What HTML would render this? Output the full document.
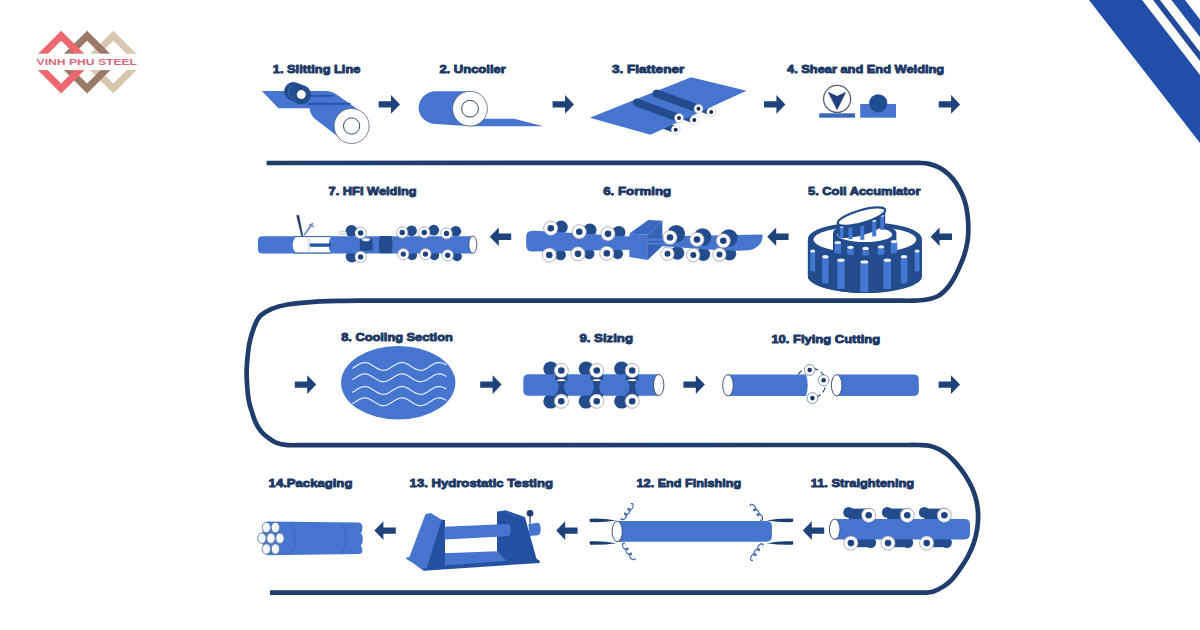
<!DOCTYPE html>
<html lang="en">
<head>
<meta charset="utf-8">
<title>ERW Steel Pipe Manufacturing Process</title>
<style>
  html, body { margin: 0; padding: 0; background: #ffffff; }
  body { width: 1200px; height: 630px; overflow: hidden; font-family: "Liberation Sans", sans-serif; }
  svg { display: block; }
  .lbl { font-family: "Liberation Sans", sans-serif; font-weight: bold; font-size: 11.4px; fill: #1c3966; stroke: #1c3966; stroke-width: 0.9px; stroke-linejoin: round; }
  .logo { font-family: "Liberation Sans", sans-serif; font-weight: bold; font-size: 8.6px; fill: #d4687b; }
</style>
</head>
<body>
<svg width="1200" height="630" viewBox="0 0 1200 630">
  <defs>
    <path id="ar" d="M0,-3.2 H12.4 V-9.3 L21.4,0 L12.4,9.3 V3.2 H0 Z" fill="#1e427a"/>
    <path id="al" d="M21.4,-3.2 H9 V-9.3 L0,0 L9,9.3 V3.2 H21.4 Z" fill="#1e427a"/>
    <!-- roller: white ring with dark hub -->
    <g id="rl">
      <circle r="7.1" fill="#ffffff" stroke="#8a94a8" stroke-width="0.7"/>
      <circle r="3.3" fill="#1f4380"/>
    </g>
    <g id="rm">
      <circle r="6.7" fill="#ffffff" stroke="#8a94a8" stroke-width="0.7"/>
      <circle r="3" fill="#1f4380"/>
    </g>
    <g id="rx">
      <circle r="7.6" fill="#ffffff" stroke="#8a94a8" stroke-width="0.7"/>
      <circle r="3.4" fill="#1f4380"/>
    </g>
    <g id="rh">
      <circle r="5.7" fill="#ffffff" stroke="#8a94a8" stroke-width="0.7"/>
      <circle r="2.7" fill="#1f4380"/>
    </g>
    <g id="rs">
      <circle r="6.4" fill="#ffffff" stroke="#8a94a8" stroke-width="0.7"/>
      <circle r="3" fill="#1f4380"/>
    </g>
  </defs>
  <rect x="0" y="0" width="1200" height="630" fill="#ffffff"/>

  <!-- ===== top-right corner stripes ===== -->
  <g id="corner">
    <polygon points="1089,0 1142,0 1200,75 1200,143" fill="#214fa8"/>
    <polygon points="1153,0 1160,0 1200,52 1200,61" fill="#24499a"/>
    <polygon points="1171.4,0 1185,0 1200,19.5 1200,37" fill="#214fa8"/>
  </g>

  <!-- ===== logo ===== -->
  <g id="logo">
    <g fill="none" stroke-width="7" stroke-linejoin="miter">
      <polygon points="113.3,35.7 139.7,62.1 113.3,88.5 86.9,62.1" stroke="#d8c6af"/>
      <polygon points="87.1,35.7 113.5,62.1 87.1,88.5 60.7,62.1" stroke="#9a7968"/>
      <polygon points="61.2,35.7 87.6,62.1 61.2,88.5 34.8,62.1" stroke="#ee696f"/>
    </g>
    <rect x="28" y="53.7" width="120" height="16.4" fill="#ffffff"/>
    <text class="logo" x="36.6" y="64.9" textLength="100.4" lengthAdjust="spacingAndGlyphs">VINH PHU STEEL</text>
  </g>

  <!-- ===== serpentine track ===== -->
  <path id="track" fill="none" stroke="#1f3d6c" stroke-width="4.7" stroke-linecap="butt" stroke-linejoin="round"
    d="M266.6,163 L905.0,162.9 C907.3,162.9 915.0,162.7 919.0,162.9 C923.0,163.1 925.8,163.1 929.2,163.9 C932.6,164.7 936.2,166.0 939.4,167.7 C942.6,169.4 945.5,171.5 948.3,174.0 C951.0,176.5 953.6,179.5 955.9,182.9 C958.2,186.3 960.5,190.6 962.2,194.4 C963.9,198.2 965.0,201.8 966.0,205.8 C967.0,209.8 967.5,214.1 967.9,218.5 C968.3,222.9 968.4,228.0 968.3,232.0 C968.2,236.0 968.0,238.8 967.3,242.7 C966.6,246.6 965.5,251.2 964.1,255.4 C962.7,259.6 960.8,264.1 959.0,268.1 C957.2,272.1 955.3,276.1 953.3,279.5 C951.3,282.9 949.5,285.6 947.0,288.4 C944.5,291.1 941.7,294.1 938.1,296.0 C934.5,297.9 929.6,299.0 925.4,299.8 C921.2,300.6 917.3,300.6 912.7,300.7 C908.1,300.8 900.5,300.7 898.0,300.7 L360.0,300.7 C357.5,300.7 351.7,300.7 345.0,300.8 C338.3,300.9 329.6,300.7 320.0,301.3 C310.4,301.9 295.7,303.2 287.6,304.5 C279.6,305.8 276.3,306.9 271.7,308.9 C267.1,310.9 262.7,313.4 259.8,316.4 C256.9,319.4 256.0,322.3 254.3,326.7 C252.6,331.1 250.7,336.7 249.5,342.6 C248.3,348.5 247.6,356.1 247.1,362.0 C246.6,367.9 246.4,371.7 246.7,378.0 C247.0,384.3 247.8,394.4 248.7,400.0 C249.6,405.6 250.7,408.1 251.9,411.9 C253.1,415.7 254.3,419.7 255.9,423.0 C257.5,426.3 259.3,429.2 261.4,431.7 C263.5,434.2 266.1,436.2 268.6,438.1 C271.1,440.0 273.3,441.7 276.5,442.9 C279.7,444.1 283.4,444.7 287.6,445.1 C291.9,445.5 299.6,445.1 302.0,445.1 L905.0,445.0 C907.4,445.0 915.2,444.9 919.3,445.0 C923.3,445.1 926.0,445.0 929.3,445.7 C932.6,446.4 936.2,447.8 939.3,449.3 C942.4,450.9 945.0,452.6 947.9,455.0 C950.8,457.4 953.5,460.3 956.4,463.6 C959.2,466.9 962.4,470.9 965.0,475.0 C967.6,479.1 970.2,483.6 972.1,487.9 C974.0,492.2 975.4,496.2 976.4,500.7 C977.4,505.2 978.0,510.2 978.1,515.0 C978.2,519.8 977.9,524.5 977.1,529.3 C976.4,534.1 975.1,539.1 973.6,543.6 C972.1,548.1 970.0,552.4 967.9,556.4 C965.8,560.4 963.3,564.1 960.7,567.9 C958.1,571.7 955.0,576.2 952.1,579.3 C949.2,582.4 946.7,584.4 943.6,586.4 C940.5,588.4 936.7,590.4 933.6,591.4 C930.5,592.4 928.9,592.4 925.0,592.6 C921.1,592.8 912.5,592.6 910.0,592.6 L270,592.6"/>

  <!-- ===== arrows ===== -->
  <g id="arrows">
    <use href="#ar" x="378.6" y="104.4"/>
    <use href="#ar" x="552.6" y="104.4"/>
    <use href="#ar" x="764" y="104.4"/>
    <use href="#ar" x="938.7" y="104.4"/>

    <use href="#al" x="489.8" y="236.8"/>
    <use href="#al" x="767.2" y="236.8"/>
    <use href="#al" x="930.6" y="236.8"/>

    <use href="#ar" x="294.8" y="384.6"/>
    <use href="#ar" x="480.2" y="384.6"/>
    <use href="#ar" x="683.4" y="384.6"/>
    <use href="#ar" x="938.6" y="384.6"/>

    <use href="#al" x="374.4" y="530.6"/>
    <use href="#al" x="556.2" y="530.6"/>
    <use href="#al" x="802.8" y="530.6"/>
  </g>

  <!-- ===== labels ===== -->
  <g id="labels">
    <text class="lbl" x="272.8" y="72.7" textLength="87.6" lengthAdjust="spacingAndGlyphs">1. Slitting Line</text>
    <text class="lbl" x="439.4" y="72.7" textLength="66.4" lengthAdjust="spacingAndGlyphs">2. Uncoiler</text>
    <text class="lbl" x="612" y="72.7" textLength="72.2" lengthAdjust="spacingAndGlyphs">3. Flattener</text>
    <text class="lbl" x="787" y="72.7" textLength="157.2" lengthAdjust="spacingAndGlyphs">4. Shear and End Welding</text>

    <text class="lbl" x="328.6" y="194.7" textLength="88" lengthAdjust="spacingAndGlyphs">7. HFI Welding</text>
    <text class="lbl" x="603.2" y="195" textLength="68" lengthAdjust="spacingAndGlyphs">6. Forming</text>
    <text class="lbl" x="808" y="194.7" textLength="112.4" lengthAdjust="spacingAndGlyphs">5. Coil Accumlator</text>

    <text class="lbl" x="341.2" y="341.4" textLength="111.6" lengthAdjust="spacingAndGlyphs">8. Cooling Section</text>
    <text class="lbl" x="579.4" y="341.8" textLength="53.6" lengthAdjust="spacingAndGlyphs">9. Sizing</text>
    <text class="lbl" x="771.4" y="343.2" textLength="108.8" lengthAdjust="spacingAndGlyphs">10. Flying Cutting</text>

    <text class="lbl" x="268.6" y="486.7" textLength="83.8" lengthAdjust="spacingAndGlyphs">14.Packaging</text>
    <text class="lbl" x="409.6" y="487.2" textLength="143.4" lengthAdjust="spacingAndGlyphs">13. Hydrostatic Testing</text>
    <text class="lbl" x="636.6" y="487.2" textLength="104.6" lengthAdjust="spacingAndGlyphs">12. End Finishing</text>
    <text class="lbl" x="810.8" y="487.2" textLength="103.4" lengthAdjust="spacingAndGlyphs">11. Straightening</text>
  </g>

  <!-- ===== STEPS ===== -->
  <g id="steps">

  <!-- step 1 : slitting line -->
  <g id="s1">
    <path d="M261.9,91.1 H327 Q331.5,91.1 335.5,93.8 L358,109.5 L341,139 L314.6,118.4 Q310,114.5 309.6,108.3 H278.4 Z" fill="#4575ce"/>
    <path d="M310,95.9 H334" stroke="#2a55a8" stroke-width="1.8" fill="none"/>
    <path d="M308,103.8 H350.5" stroke="#2a55a8" stroke-width="2" fill="none"/>
    <circle cx="293.4" cy="91.2" r="9.2" fill="#224c8c"/>
    <circle cx="297.4" cy="92.8" r="9.4" fill="#224c8c"/>
    <path d="M291.5,85.5 A9,9 0 0 0 291.5,98.5" stroke="#4a78c4" stroke-width="0.9" fill="none"/>
    <circle cx="301.3" cy="94.6" r="9.7" fill="#224c8c"/>
    <path d="M295.5,88 A9,9 0 0 0 295.5,101" stroke="#35609f" stroke-width="0.8" fill="none"/>
    <circle cx="301.3" cy="94.6" r="4.5" fill="#ffffff"/>
    <circle cx="351.6" cy="126" r="17.5" fill="#ffffff" stroke="#56647f" stroke-width="0.8"/>
    <circle cx="351.6" cy="126" r="8.1" fill="#ffffff" stroke="#33496f" stroke-width="1"/>
  </g>

  <!-- step 2 : uncoiler -->
  <g id="s2">
    <path d="M470,91.3 H436 A17.4,16.4 0 0 0 436,124.1 L470,126.2 Z" fill="#4575ce"/>
    <path d="M470,126.2 L484,118.8 H514 L543.5,126.2 Z" fill="#4575ce"/>
    <circle cx="470" cy="108.7" r="17.4" fill="#ffffff" stroke="#56647f" stroke-width="0.8"/>
    <circle cx="470" cy="108.7" r="8.4" fill="#ffffff" stroke="#33496f" stroke-width="1"/>
  </g>

  <!-- step 3 : flattener -->
  <g id="s3">
    <g stroke="#224c8c" stroke-width="7" stroke-linecap="butt" fill="none">
      <path d="M690,104 L711.2,112"/>
      <path d="M672,112 L694.3,120"/>
      <path d="M655,122 L675.7,129.7"/>
    </g>
    <polygon points="589.8,117.7 691,77.2 746.5,90.7 650.5,134.8" fill="#4575ce"/>
    <g stroke="#224c8c" stroke-width="8" stroke-linecap="round" fill="none">
      <path d="M656.5,93.6 L698.5,108.7"/>
      <path d="M637,102.6 L679,118"/>
    </g>
    <g fill="#ffffff" stroke="#9aa4b5" stroke-width="0.4">
      <circle cx="698.5" cy="108.7" r="4.5"/><circle cx="711.2" cy="112" r="4.5"/>
      <circle cx="679" cy="118" r="4.5"/><circle cx="694.3" cy="120" r="4.5"/>
      <circle cx="675.7" cy="129.7" r="4.5"/>
    </g>
    <g fill="#1b2f52">
      <circle cx="698.5" cy="108.7" r="2"/><circle cx="711.2" cy="112" r="2"/>
      <circle cx="679" cy="118" r="2"/><circle cx="694.3" cy="120" r="2"/>
      <circle cx="675.7" cy="129.7" r="2"/>
    </g>
  </g>

  <!-- step 4 : shear and end welding -->
  <g id="s4">
    <rect x="819.2" y="113.3" width="35.8" height="4.4" fill="#3b68bd"/>
    <circle cx="837.1" cy="98.9" r="13.5" fill="#ffffff" stroke="#525c74" stroke-width="1.3"/>
    <polygon points="828.3,92.3 837.1,96.3 845.7,92.3 837.1,109.8" fill="#213f82" stroke="#1a2c55" stroke-width="0.5"/>
    <rect x="860.2" y="104" width="35.8" height="13.7" fill="#4575ce"/>
    <circle cx="878.2" cy="103.3" r="9.1" fill="#1f4d92"/>
  </g>

  <!-- step 5 : coil accumulator -->
  <g id="s5">
    <!-- outer drum back + body -->
    <path d="M807.9,238.9 A57,16.7 0 0 1 921.9,238.9 V276.2 A57,16.7 0 0 1 807.9,276.2 Z" fill="#224c8c"/>
    <ellipse cx="864.9" cy="239.6" rx="51.4" ry="13.2" fill="#ffffff"/>
    <!-- inner drum -->
    <path d="M833,233 A31.7,9.5 0 0 1 896.4,233 V256 A31.7,9.5 0 0 1 833,256 Z" fill="#224c8c"/>
    <ellipse cx="864.7" cy="234.6" rx="27.5" ry="7.4" fill="#ffffff"/>
    <g>
      <rect x="834.6" y="242.5" width="6.4" height="14.5" fill="#4278d2"/>
      <ellipse cx="837.8" cy="242.5" rx="3.2" ry="1.6" fill="#eef3fb"/>
      <rect x="847.3" y="247.3" width="6.4" height="9.7" fill="#4278d2"/>
      <ellipse cx="850.5" cy="247.3" rx="3.2" ry="1.6" fill="#eef3fb"/>
      <rect x="862.4" y="248.4" width="6.4" height="8.6" fill="#4278d2"/>
      <ellipse cx="865.6" cy="248.4" rx="3.2" ry="1.6" fill="#eef3fb"/>
      <rect x="877.8" y="246.8" width="6.4" height="10.2" fill="#4278d2"/>
      <ellipse cx="881.0" cy="246.8" rx="3.2" ry="1.6" fill="#eef3fb"/>
      <rect x="890.8" y="241.6" width="6.4" height="15.4" fill="#4278d2"/>
      <ellipse cx="894.0" cy="241.6" rx="3.2" ry="1.6" fill="#eef3fb"/>
    </g>
    <!-- front wall of outer drum -->
    <path d="M807.9,238.9 A57,16.7 0 0 0 921.9,238.9 V276.2 A57,16.7 0 0 1 807.9,276.2 Z" fill="#224c8c"/>
    <path d="M813.5,239.6 A51.4,13.2 0 0 0 916.3,239.6 A51.4,10 0 0 0 813.5,239.6 Z" fill="#224c8c" opacity="0"/>
    <g>
      <rect x="810.2" y="251.1" width="5" height="20.3" fill="#4278d2"/>
      <ellipse cx="812.7" cy="251.1" rx="2.5" ry="1.7" fill="#eef3fb"/>
      <rect x="822.1" y="256.8" width="6.5" height="26.5" fill="#4278d2"/>
      <ellipse cx="825.4" cy="256.8" rx="3.2" ry="1.7" fill="#eef3fb"/>
      <rect x="837.2" y="260.3" width="7.5" height="28.6" fill="#4278d2"/>
      <ellipse cx="841.0" cy="260.3" rx="3.8" ry="1.7" fill="#eef3fb"/>
      <rect x="860.3" y="261.9" width="8" height="30.1" fill="#4278d2"/>
      <ellipse cx="864.3" cy="261.9" rx="4.0" ry="1.7" fill="#eef3fb"/>
      <rect x="883.5" y="260.3" width="7.5" height="28.6" fill="#4278d2"/>
      <ellipse cx="887.3" cy="260.3" rx="3.8" ry="1.7" fill="#eef3fb"/>
      <rect x="900.8" y="256.8" width="6.5" height="26.5" fill="#4278d2"/>
      <ellipse cx="904.0" cy="256.8" rx="3.2" ry="1.7" fill="#eef3fb"/>
      <rect x="914.6" y="251.1" width="5" height="20.3" fill="#4278d2"/>
      <ellipse cx="917.1" cy="251.1" rx="2.5" ry="1.7" fill="#eef3fb"/>
    </g>
    <!-- tilted coil on top -->
    <g>
      <ellipse cx="861.5" cy="228.8" rx="24.6" ry="6.4" transform="rotate(-16 861.5 228.8)" fill="#224c8c"/>
      <polygon points="837.8,222.9 885.2,210.3 885.2,222.5 837.8,235.1" fill="#224c8c"/>
      <g fill="#4278d2">
        <rect x="839.8" y="226.6" width="3.8" height="10.6"/>
        <rect x="848.5" y="227.6" width="4" height="11.6"/>
        <rect x="860.3" y="226" width="4" height="13.8"/>
        <rect x="872.2" y="220.6" width="4" height="15.8"/>
        <rect x="880.4" y="215.4" width="3.6" height="14.4"/>
      </g>
      <g fill="#e9f0fb">
        <ellipse cx="841.7" cy="226.9" rx="1.9" ry="0.9"/>
        <ellipse cx="874.2" cy="220.9" rx="2" ry="0.9"/>
        <ellipse cx="882.2" cy="215.7" rx="1.8" ry="0.9"/>
      </g>
      <ellipse cx="861.5" cy="216.6" rx="24.6" ry="6.4" transform="rotate(-16 861.5 216.6)" fill="#ffffff" stroke="#224c8c" stroke-width="2.2"/>
    </g>
  </g>
  <!-- step 6 : forming -->
  <g id="s6">
    <circle cx="561.1" cy="227.2" r="6.6" fill="#224c8c"/>
    <circle cx="589.9" cy="230.2" r="6.6" fill="#224c8c"/>
    <circle cx="618.8" cy="232.5" r="6.6" fill="#224c8c"/>
    <circle cx="560.5" cy="254.9" r="5.4" fill="#224c8c"/>
    <circle cx="589.1" cy="253.8" r="5.4" fill="#224c8c"/>
    <circle cx="617.7" cy="253.8" r="5.4" fill="#224c8c"/>
    <circle cx="677.5" cy="253.0" r="6.8" fill="#224c8c"/>
    <circle cx="703.3" cy="254.2" r="6.8" fill="#224c8c"/>
    <circle cx="729.5" cy="253.7" r="6.8" fill="#224c8c"/>
    <path d="M630,236.6 L540,231 L532.4,230.8 Q526.2,230.8 526.2,237 V245.4 Q526.2,251.6 532.4,251.6 L630,249.8 Z" fill="#4575ce"/>
    <path d="M650,236.4 L762.6,234.4 C763.2,243 757,250.6 744,250.6 C715,251 680,246.8 650,245.4 Z" fill="#4575ce"/>
    <circle cx="676.3" cy="233.8" r="8.8" fill="#224c8c"/>
    <circle cx="702.5" cy="237" r="8.8" fill="#224c8c"/>
    <circle cx="728.8" cy="238" r="8.8" fill="#224c8c"/>
    <polygon points="629.4,233.6 648.3,220 662.4,220.7 647.7,234.8" fill="#3a69c0"/>
    <polygon points="647.7,234.8 662.4,220.7 662.4,246 647.7,260" fill="#3463b9"/>
    <rect x="648" y="238.6" width="18" height="2.2" fill="#4c7dd4"/>
    <rect x="648" y="242.6" width="18" height="2" fill="#4c7dd4"/>
    <polygon points="629.4,233.6 647.7,234.8 647.7,260 629.4,257" fill="#4575ce"/>
    <path d="M647.7,234.8 V260" stroke="#355fb0" stroke-width="0.5" fill="none"/>
    <use href="#rl" x="550.8" y="228.3"/>
    <use href="#rl" x="579.3" y="231.8"/>
    <use href="#rl" x="608" y="233.8"/>
    <use href="#rl" x="549.3" y="255"/>
    <use href="#rl" x="578" y="253.8"/>
    <use href="#rl" x="606.8" y="253.3"/>
    <use href="#rl" x="670" y="237.5"/>
    <use href="#rl" x="697" y="239.5"/>
    <use href="#rl" x="723.3" y="240.8"/>
    <use href="#rm" x="667.5" y="253.8"/>
    <use href="#rm" x="693.3" y="255"/>
    <use href="#rm" x="719.5" y="254.5"/>
  </g>
  <!-- step 7 : HFI welding -->
  <g id="s7">
    <circle cx="411.5" cy="230.8" r="5.4" fill="#224c8c"/>
    <circle cx="433.7" cy="230.2" r="5.4" fill="#224c8c"/>
    <circle cx="455.8" cy="231.3" r="5.4" fill="#224c8c"/>
    <circle cx="412.1" cy="255.3" r="4.9" fill="#224c8c"/>
    <circle cx="434.3" cy="255.3" r="4.9" fill="#224c8c"/>
    <circle cx="457" cy="256.4" r="4.9" fill="#224c8c"/>
    <circle cx="351.5" cy="231" r="6" fill="#224c8c"/>
    <circle cx="351.8" cy="256.4" r="6" fill="#224c8c"/>
    <path d="M472.8,236.2 H262.4 Q257.9,236.2 257.9,240.7 V248.9 Q257.9,253.4 262.4,253.4 H472.8 Z" fill="#4575ce"/>
    <path d="M295.4,236.9 H330.8 Q326.4,244.8 330.8,252.7 H295.4 Q289.8,244.8 295.4,236.9 Z" fill="#ffffff"/>
    <path d="M294,236.6 H331 M294,253 H331" stroke="#2f5cae" stroke-width="0.9" fill="none"/>
    <rect x="307.4" y="238" width="3" height="13.4" fill="#e4e4ee"/>
    <rect x="309.8" y="243.4" width="21.4" height="3.4" fill="#2b58ad"/>
    <rect x="359.8" y="238.8" width="12.8" height="12" fill="#224c8c"/>
    <path d="M380,236 H391.4 Q393.6,244.6 391.4,253.3 H380 Q377.8,244.6 380,236 Z" fill="#224c8c"/>
    <ellipse cx="472.8" cy="244.65" rx="4" ry="8.65" fill="#ffffff" stroke="#3a4c72" stroke-width="0.9"/>
    <path d="M296.6,215.6 L298.8,215.2 L302.9,236 L301.6,236 Z" fill="#1c3766" stroke="#1c3766" stroke-width="0.5" stroke-linejoin="round"/>
    <path d="M312.2,223.8 L304.6,234.4" stroke="#6a8cc6" stroke-width="1.7" stroke-linecap="round" fill="none"/>
    <path d="M309.6,224.6 L313.4,226.6" stroke="#5f84c2" stroke-width="1.2" stroke-linecap="round" fill="none"/>
    <ellipse cx="342.6" cy="233" rx="4" ry="1.7" fill="#eef2f8" stroke="#93a6c8" stroke-width="0.5"/>
    <ellipse cx="366" cy="239.6" rx="4" ry="1.7" fill="#eef2f8" stroke="#93a6c8" stroke-width="0.5"/>
    <use href="#rh" x="360.6" y="233"/>
    <use href="#rh" x="360.6" y="256.9"/>
    <use href="#rh" x="402.2" y="232.5"/>
    <use href="#rh" x="424.3" y="232.5"/>
    <use href="#rh" x="446.5" y="233.4"/>
    <use href="#rh" x="403.3" y="254.1"/>
    <use href="#rh" x="425.5" y="254.1"/>
    <use href="#rh" x="447.7" y="255.3"/>
  </g>
  <!-- step 8 : cooling section -->
  <g id="s8">
    <ellipse cx="398.2" cy="382.8" rx="57.2" ry="36.8" fill="#4575ce"/>
    <polyline points="352.8,368.12 354.4,367.15 355.9,366.13 357.5,365.13 359.0,364.22 360.6,363.46 362.1,362.89 363.7,362.57 365.2,362.51 366.8,362.72 368.3,363.17 369.9,363.85 371.4,364.71 373.0,365.68 374.5,366.69 376.1,367.69 377.7,368.60 379.2,369.36 380.8,369.92 382.3,370.23 383.9,370.29 385.4,370.08 387.0,369.61 388.5,368.93 390.1,368.07 391.6,367.10 393.2,366.08 394.7,365.08 396.3,364.18 397.8,363.42 399.4,362.87 401.0,362.56 402.5,362.51 404.1,362.73 405.6,363.20 407.2,363.89 408.7,364.75 410.3,365.73 411.8,366.75 413.4,367.74 414.9,368.65 416.5,369.40 418.0,369.94 419.6,370.24 421.1,370.28 422.7,370.06 424.3,369.58 425.8,368.89 427.4,368.02 428.9,367.05 430.5,366.03 432.0,365.03 433.6,364.13 435.1,363.39 436.7,362.85 438.2,362.55 439.8,362.52 441.3,362.75 442.9,363.23 444.4,363.93 446.0,364.80" fill="none" stroke="#e3edfb" stroke-width="1.2" stroke-linecap="round"/>
    <polyline points="352.8,379.52 354.4,378.55 355.9,377.53 357.5,376.53 359.0,375.62 360.6,374.86 362.1,374.29 363.7,373.97 365.2,373.91 366.8,374.12 368.3,374.57 369.9,375.25 371.4,376.11 373.0,377.08 374.5,378.09 376.1,379.09 377.7,380.00 379.2,380.76 380.8,381.32 382.3,381.63 383.9,381.69 385.4,381.48 387.0,381.01 388.5,380.33 390.1,379.47 391.6,378.50 393.2,377.48 394.7,376.48 396.3,375.58 397.8,374.82 399.4,374.27 401.0,373.96 402.5,373.91 404.1,374.13 405.6,374.60 407.2,375.29 408.7,376.15 410.3,377.13 411.8,378.15 413.4,379.14 414.9,380.05 416.5,380.80 418.0,381.34 419.6,381.64 421.1,381.68 422.7,381.46 424.3,380.98 425.8,380.29 427.4,379.42 428.9,378.45 430.5,377.43 432.0,376.43 433.6,375.53 435.1,374.79 436.7,374.25 438.2,373.95 439.8,373.92 441.3,374.15 442.9,374.63 444.4,375.33 446.0,376.20" fill="none" stroke="#e3edfb" stroke-width="1.2" stroke-linecap="round"/>
    <polyline points="352.8,392.12 354.4,391.15 355.9,390.13 357.5,389.13 359.0,388.22 360.6,387.46 362.1,386.89 363.7,386.57 365.2,386.51 366.8,386.72 368.3,387.17 369.9,387.85 371.4,388.71 373.0,389.68 374.5,390.69 376.1,391.69 377.7,392.60 379.2,393.36 380.8,393.92 382.3,394.23 383.9,394.29 385.4,394.08 387.0,393.61 388.5,392.93 390.1,392.07 391.6,391.10 393.2,390.08 394.7,389.08 396.3,388.18 397.8,387.42 399.4,386.87 401.0,386.56 402.5,386.51 404.1,386.73 405.6,387.20 407.2,387.89 408.7,388.75 410.3,389.73 411.8,390.75 413.4,391.74 414.9,392.65 416.5,393.40 418.0,393.94 419.6,394.24 421.1,394.28 422.7,394.06 424.3,393.58 425.8,392.89 427.4,392.02 428.9,391.05 430.5,390.03 432.0,389.03 433.6,388.13 435.1,387.39 436.7,386.85 438.2,386.55 439.8,386.52 441.3,386.75 442.9,387.23 444.4,387.93 446.0,388.80" fill="none" stroke="#e3edfb" stroke-width="1.2" stroke-linecap="round"/>
    <polyline points="352.8,403.52 354.4,402.55 355.9,401.53 357.5,400.53 359.0,399.62 360.6,398.86 362.1,398.29 363.7,397.97 365.2,397.91 366.8,398.12 368.3,398.57 369.9,399.25 371.4,400.11 373.0,401.08 374.5,402.09 376.1,403.09 377.7,404.00 379.2,404.76 380.8,405.32 382.3,405.63 383.9,405.69 385.4,405.48 387.0,405.01 388.5,404.33 390.1,403.47 391.6,402.50 393.2,401.48 394.7,400.48 396.3,399.58 397.8,398.82 399.4,398.27 401.0,397.96 402.5,397.91 404.1,398.13 405.6,398.60 407.2,399.29 408.7,400.15 410.3,401.13 411.8,402.15 413.4,403.14 414.9,404.05 416.5,404.80 418.0,405.34 419.6,405.64 421.1,405.68 422.7,405.46 424.3,404.98 425.8,404.29 427.4,403.42 428.9,402.45 430.5,401.43 432.0,400.43 433.6,399.53 435.1,398.79 436.7,398.25 438.2,397.95 439.8,397.92 441.3,398.15 442.9,398.63 444.4,399.33 446.0,400.20" fill="none" stroke="#e3edfb" stroke-width="1.2" stroke-linecap="round"/>
  </g>
  <!-- step 9 : sizing -->
  <g id="s9">
    <circle cx="550.6999999999999" cy="368.8" r="7.4" fill="#224c8c"/>
    <circle cx="550.6999999999999" cy="401.2" r="7.4" fill="#224c8c"/>
    <circle cx="586.1" cy="368.8" r="7.4" fill="#224c8c"/>
    <circle cx="586.1" cy="401.2" r="7.4" fill="#224c8c"/>
    <circle cx="621.6" cy="368.8" r="7.4" fill="#224c8c"/>
    <circle cx="621.6" cy="401.2" r="7.4" fill="#224c8c"/>
    <path d="M658.7,374.2 H528.8 Q523.3,374.2 523.3,379.7 V390.3 Q523.3,395.8 528.8,395.8 H658.7 Z" fill="#4575ce"/>
    <path d="M555.3,378.5 Q558.7,384 558.7,387.6 Q558.3,392 554.7,396.4 H567.9 Q564.3,392 563.9,387.6 Q563.9,384 567.3,378.5 Z" fill="#224c8c"/>
    <rect x="555.0999999999999" y="372" width="12.4" height="8" fill="#224c8c"/>
    <rect x="555.0999999999999" y="394" width="12.4" height="4" fill="#224c8c"/>
    <path d="M590.7,378.5 Q594.1,384 594.1,387.6 Q593.7,392 590.1,396.4 H603.3 Q599.7,392 599.3,387.6 Q599.3,384 602.7,378.5 Z" fill="#224c8c"/>
    <rect x="590.5" y="372" width="12.4" height="8" fill="#224c8c"/>
    <rect x="590.5" y="394" width="12.4" height="4" fill="#224c8c"/>
    <path d="M626.2,378.5 Q629.6,384 629.6,387.6 Q629.2,392 625.6,396.4 H638.8 Q635.2,392 634.8,387.6 Q634.8,384 638.2,378.5 Z" fill="#224c8c"/>
    <rect x="626.0" y="372" width="12.4" height="8" fill="#224c8c"/>
    <rect x="626.0" y="394" width="12.4" height="4" fill="#224c8c"/>
    <ellipse cx="658.7" cy="385" rx="5.2" ry="10.6" fill="#ffffff" stroke="#3a4c72" stroke-width="0.95"/>
    <use href="#rl" x="561.3" y="370.5"/>
    <use href="#rl" x="561.3" y="401.2"/>
    <ellipse cx="561.3" cy="380.2" rx="4.7" ry="1.5" fill="#ffffff" stroke="#1c3766" stroke-width="0.9"/>
    <use href="#rl" x="596.7" y="370.5"/>
    <use href="#rl" x="596.7" y="401.2"/>
    <ellipse cx="596.7" cy="380.2" rx="4.7" ry="1.5" fill="#ffffff" stroke="#1c3766" stroke-width="0.9"/>
    <use href="#rl" x="632.2" y="370.5"/>
    <use href="#rl" x="632.2" y="401.2"/>
    <ellipse cx="632.2" cy="380.2" rx="4.7" ry="1.5" fill="#ffffff" stroke="#1c3766" stroke-width="0.9"/>
  </g>
  <!-- step 10 : flying cutting -->
  <g id="s10">
    <path d="M728,374.6 H806 Q809.4,385.3 806,396 H728 Z" fill="#4575ce"/>
    <ellipse cx="728" cy="385.3" rx="5.3" ry="10.7" fill="#ffffff" stroke="#3a4c72" stroke-width="0.95"/>
    <path d="M836.7,374.6 H913.5 Q918.8,374.6 918.8,379.9 V390.7 Q918.8,396 913.5,396 H836.7 Z" fill="#4575ce"/>
    <ellipse cx="836.7" cy="385.3" rx="5.3" ry="10.7" fill="#ffffff" stroke="#3a4c72" stroke-width="0.95"/>
    <path d="M798,374.4 A15.3,15.3 0 1 1 812.6,398.4" fill="none" stroke="#1f3d6c" stroke-width="1.1" stroke-dasharray="5.5 3"/>
    <circle cx="809.7" cy="370" r="5.4" fill="#ffffff" stroke="#33558f" stroke-width="0.6"/><circle cx="809.7" cy="370" r="2.3" fill="#1c3766"/>
    <circle cx="823.6" cy="380.3" r="5.4" fill="#ffffff" stroke="#33558f" stroke-width="0.6"/><circle cx="823.6" cy="380.3" r="2.3" fill="#1c3766"/>
    <circle cx="812.4" cy="398.1" r="5.4" fill="#ffffff" stroke="#33558f" stroke-width="0.6"/><circle cx="812.4" cy="398.1" r="2.3" fill="#1c3766"/>
  </g>
  <!-- step 11 : straightening -->
  <g id="s11">
    <circle cx="848.7" cy="512.4" r="5.4" fill="#224c8c"/><rect x="848.7" y="508.6" width="20" height="11.2" fill="#224c8c"/><circle cx="868.7" cy="514.6" r="6.6" fill="#224c8c"/>
    <circle cx="887.3" cy="512.4" r="5.4" fill="#224c8c"/><rect x="887.3" y="508.6" width="20" height="11.2" fill="#224c8c"/><circle cx="907.3" cy="514.6" r="6.6" fill="#224c8c"/>
    <circle cx="924.3" cy="512.4" r="5.4" fill="#224c8c"/><rect x="924.3" y="508.6" width="20" height="11.2" fill="#224c8c"/><circle cx="944.3" cy="514.6" r="6.6" fill="#224c8c"/>
    <circle cx="870.7" cy="542.6" r="5.4" fill="#224c8c"/><rect x="850.9" y="538" width="19.8" height="9.2" fill="#224c8c"/><circle cx="850.9" cy="543" r="6.6" fill="#224c8c"/>
    <circle cx="907.8" cy="542.6" r="5.4" fill="#224c8c"/><rect x="888" y="538" width="19.8" height="9.2" fill="#224c8c"/><circle cx="888" cy="543" r="6.6" fill="#224c8c"/>
    <circle cx="946.5" cy="542.6" r="5.4" fill="#224c8c"/><rect x="926.7" y="538" width="19.8" height="9.2" fill="#224c8c"/><circle cx="926.7" cy="543" r="6.6" fill="#224c8c"/>
    <path d="M834.7,519 H964.6 Q970,519 970,524.4 V534 Q970,539.4 964.6,539.4 H834.7 Z" fill="#4575ce"/>
    <ellipse cx="834.7" cy="529.2" rx="5.3" ry="10.1" fill="#ffffff" stroke="#3a4c72" stroke-width="0.95"/>
    <use href="#rl" x="868.7" y="515.3"/>
    <use href="#rl" x="907.3" y="515.3"/>
    <use href="#rl" x="944.3" y="515.3"/>
    <use href="#rl" x="850.9" y="543.1"/>
    <use href="#rl" x="888" y="543.1"/>
    <use href="#rl" x="926.7" y="543.1"/>
  </g>
  <!-- step 12 : end finishing -->
  <g id="s12">
    <path d="M617.2,521.1 H766.5 Q771.9,521.1 771.9,526.5 V536.3 Q771.9,541.7 766.5,541.7 H617.2 Z" fill="#4575ce"/>
    <ellipse cx="617.2" cy="531.4" rx="5.1" ry="10.3" fill="#ffffff" stroke="#3a4c72" stroke-width="0.95"/>
    <path d="M589.8,518.7 Q603,518.0 616.2,520.6 Q603,522.6 590.2,522.1 Q589,520.4 589.8,518.7 Z" fill="#1c3d72"/>
    <path d="M793,518.7 Q779.8,518.0 766.6,520.6 Q779.8,522.6 792.6,522.1 Q793.8,520.4 793,518.7 Z" fill="#1c3d72"/>
    <path d="M589.8,541.3 Q603,540.6 616.2,543.2 Q603,545.2 590.2,544.7 Q589,543.0 589.8,541.3 Z" fill="#1c3d72"/>
    <path d="M793,541.3 Q779.8,540.6 766.6,543.2 Q779.8,545.2 792.6,544.7 Q793.8,543.0 793,541.3 Z" fill="#1c3d72"/>



    <polyline points="621.2,518.1 621.1,518.5 621.1,518.9 621.3,519.2 621.7,519.5 622.2,519.6 622.9,519.6 623.6,519.4 624.3,519.0 625.0,518.4 625.6,517.7 626.1,516.9 626.4,516.0 626.5,515.2 626.5,514.4 626.3,513.8 626.0,513.4 625.6,513.1 625.2,513.0 624.8,513.1 624.6,513.4 624.4,513.7 624.4,514.1 624.7,514.4 625.0,514.7 625.6,514.9 626.2,514.8 626.9,514.6 627.7,514.2 628.4,513.6 629.0,512.9 629.4,512.1 629.8,511.2 629.9,510.4 629.8,509.7 629.6,509.0 629.3,508.6 628.9,508.3 628.5,508.3 628.2,508.4 627.9,508.6 627.8,508.9 627.8,509.3 628.0,509.7 628.4,510.0 628.9,510.1 629.5,510.1 630.3,509.9 631.0,509.5 631.7,508.9 632.3,508.1 632.8,507.3 633.1,506.5 633.2,505.6 633.2,504.9 633.0,504.3 632.7,503.8 632.3,503.6 631.9,503.5 631.5,503.6 631.2,503.8" fill="none" stroke="#355fa8" stroke-width="1.1" stroke-linecap="round" stroke-linejoin="round"/>
    <polyline points="624.5,543.3 624.2,543.1 623.9,543.0 623.5,543.1 623.1,543.4 622.8,543.8 622.6,544.5 622.5,545.2 622.7,546.1 623.0,546.9 623.5,547.8 624.1,548.5 624.8,549.1 625.5,549.5 626.2,549.7 626.9,549.8 627.4,549.6 627.8,549.4 628.0,549.0 628.1,548.7 627.9,548.3 627.7,548.1 627.3,548.0 626.9,548.1 626.5,548.4 626.2,548.8 626.0,549.5 626.0,550.2 626.1,551.1 626.4,551.9 626.9,552.8 627.5,553.5 628.2,554.1 629.0,554.5 629.7,554.7 630.4,554.8 630.9,554.6 631.3,554.4 631.5,554.0 631.5,553.7 631.4,553.3 631.1,553.1 630.8,553.0 630.4,553.1 630.0,553.4 629.7,553.8 629.5,554.5 629.5,555.2 629.6,556.1 629.9,556.9 630.4,557.8 631.0,558.5 631.7,559.1 632.4,559.5 633.2,559.7 633.8,559.8 634.4,559.6 634.8,559.4 635.0,559.0 635.0,558.7 634.9,558.3" fill="none" stroke="#355fa8" stroke-width="1.1" stroke-linecap="round" stroke-linejoin="round"/>
    <polyline points="760.6,520.1 760.9,520.3 761.3,520.4 761.7,520.3 762.1,520.1 762.4,519.6 762.6,519.0 762.6,518.2 762.4,517.4 762.1,516.5 761.6,515.7 761.0,515.0 760.3,514.4 759.5,514.0 758.8,513.8 758.2,513.8 757.6,514.0 757.3,514.3 757.1,514.6 757.0,515.0 757.2,515.3 757.4,515.6 757.8,515.7 758.2,515.6 758.6,515.3 758.9,514.8 759.1,514.2 759.1,513.5 759.0,512.6 758.6,511.8 758.2,511.0 757.5,510.2 756.8,509.7 756.1,509.3 755.4,509.1 754.7,509.1 754.2,509.2 753.8,509.5 753.6,509.8 753.6,510.2 753.7,510.6 754.0,510.8 754.3,510.9 754.7,510.8 755.1,510.5 755.4,510.1 755.6,509.4 755.7,508.7 755.5,507.9 755.2,507.0 754.7,506.2 754.1,505.5 753.4,504.9 752.6,504.5 751.9,504.3 751.2,504.3 750.7,504.4 750.3,504.7 750.1,505.1 750.1,505.5 750.2,505.8" fill="none" stroke="#355fa8" stroke-width="1.1" stroke-linecap="round" stroke-linejoin="round"/>
    <polyline points="763.0,545.3 763.1,544.9 763.1,544.6 762.9,544.2 762.5,544.0 761.9,543.8 761.3,543.9 760.5,544.1 759.8,544.5 759.1,545.1 758.5,545.8 758.0,546.7 757.7,547.5 757.6,548.4 757.6,549.1 757.8,549.8 758.1,550.2 758.5,550.5 758.9,550.6 759.2,550.5 759.5,550.3 759.6,549.9 759.6,549.6 759.4,549.2 759.0,549.0 758.5,548.8 757.8,548.9 757.1,549.1 756.3,549.5 755.6,550.1 755.0,550.8 754.5,551.7 754.2,552.5 754.1,553.4 754.1,554.1 754.3,554.8 754.6,555.2 755.0,555.5 755.4,555.6 755.8,555.5 756.0,555.3 756.2,554.9 756.1,554.6 755.9,554.2 755.5,554.0 755.0,553.8 754.3,553.9 753.6,554.1 752.9,554.5 752.2,555.1 751.6,555.8 751.1,556.7 750.8,557.5 750.6,558.4 750.7,559.1 750.9,559.8 751.2,560.2 751.6,560.5 752.0,560.6 752.3,560.5 752.6,560.3" fill="none" stroke="#355fa8" stroke-width="1.1" stroke-linecap="round" stroke-linejoin="round"/>
  </g>
  <!-- step 13 : hydrostatic testing -->
  <g id="s13" transform="translate(395,500) scale(0.133333)">
    <polygon points="82,432 215,530 1085,472 1085,455 1000,400 375,400 250,430" fill="#2350a0"/>
    <polygon points="370,400 765,385 850,455 370,492" fill="#4575ce"/>
    <polygon points="340,146 375,150 375,498 232,508" fill="#2350a0"/>
    <polygon points="228,106 268,98 350,148 240,505 215,522 82,440 108,428" fill="#4575ce"/>
    <path d="M1000,182 L1070,170 Q1092,172 1092,215 Q1092,262 1070,264 L1010,270 Z" fill="#4575ce"/>
    <polygon points="765,88 830,78 975,130 1065,455 1085,470 850,470 765,385" fill="#2350a0"/>
    <polygon points="765,88 830,78 975,130 930,140" fill="#2857a8"/>
    <path d="M372,200 L845,180 Q868,182 868,226 Q868,270 845,272 L372,297 Z" fill="#4575ce"/>
    <circle cx="1013" cy="100" r="25" fill="#1c3d72"/>
    <path d="M1013,120 V178" stroke="#1c3d72" stroke-width="9" fill="none"/>
  </g>
  <!-- step 14 : packaging -->
  <g id="s14">
    <path d="M267,521.4 L358,522.6 Q362.4,522.8 362.4,527 Q362.6,531 360.8,533 Q363,535.2 362.8,539.6 Q363,543.6 360.8,545.4 Q362.6,547.6 362.4,551 Q362.4,554 358,554 L267,555.2 L263,547 L261.5,538.2 L263,529 Z" fill="#4575ce"/>
    <path d="M290.5,522 Q300.4,538.4 290.5,555" fill="none" stroke="#3360b8" stroke-width="0.8"/>
    <path d="M341.6,522.6 Q350.6,538.4 341.6,554.4" fill="none" stroke="#3360b8" stroke-width="0.8"/>
    <ellipse cx="266.4" cy="527.5" rx="4.2" ry="5.2" fill="#f2f8fc" stroke="#5f6f96" stroke-width="0.8"/>
    <ellipse cx="275.4" cy="527.5" rx="4.2" ry="5.2" fill="#f2f8fc" stroke="#5f6f96" stroke-width="0.8"/>
    <ellipse cx="261.9" cy="538.2" rx="4.2" ry="5.2" fill="#f2f8fc" stroke="#5f6f96" stroke-width="0.8"/>
    <ellipse cx="270.9" cy="538.2" rx="4.2" ry="5.2" fill="#f2f8fc" stroke="#5f6f96" stroke-width="0.8"/>
    <ellipse cx="279.9" cy="538.2" rx="4.2" ry="5.2" fill="#f2f8fc" stroke="#5f6f96" stroke-width="0.8"/>
    <ellipse cx="266.4" cy="549" rx="4.2" ry="5.2" fill="#f2f8fc" stroke="#5f6f96" stroke-width="0.8"/>
    <ellipse cx="275.4" cy="549" rx="4.2" ry="5.2" fill="#f2f8fc" stroke="#5f6f96" stroke-width="0.8"/>
  </g>
  <!--STEPS-->
  </g>
</svg>
</body>
</html>
